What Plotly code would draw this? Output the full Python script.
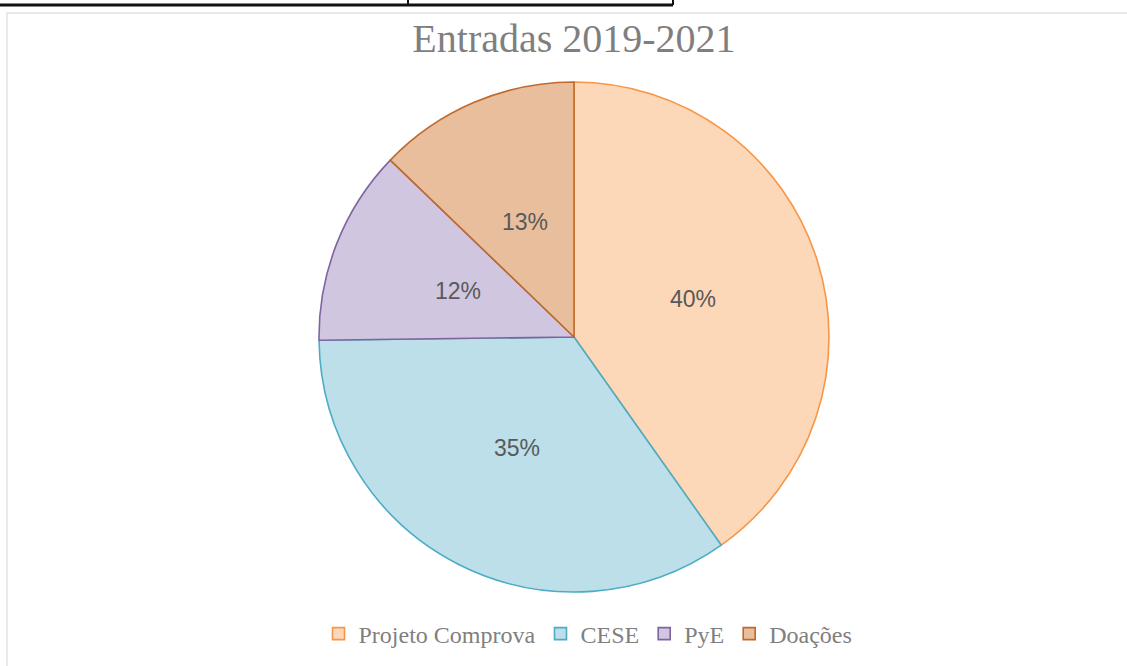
import math
import plotly.graph_objects as go

categories = ["Projeto Comprova", "CESE", "PyE", "Doações"]
values = [40.2, 34.6, 12.4, 12.8]
fill_colors = ["#FCD7B8", "#BCDFE9", "#D0C6DF", "#E9BE9C"]
line_colors = ["#F79646", "#4BACC6", "#8064A2", "#C0692B"]
title_text = "Entradas 2019-2021"

W, H = 1127, 666
cx, cy, R = 574, 337, 255
label_frac = 0.49  # Excel-like label placement along the mid-angle

fig = go.Figure()
fig.add_trace(go.Pie(
    labels=categories,
    values=values,
    sort=False,
    direction="clockwise",
    rotation=0,
    marker=dict(colors=fill_colors, line=dict(color=line_colors, width=1.6)),
    textinfo="none",
    domain=dict(x=[(cx - R) / W, (cx + R) / W], y=[(H - cy - R) / H, (H - cy + R) / H]),
    hoverinfo="label+percent",
))

# percentage labels placed at the slice mid-angles (derived from the values)
total = sum(values)
annotations = []
cum = 0.0
for v in values:
    mid = (cum + v / 2) / total * 2 * math.pi
    cum += v
    px = cx + label_frac * R * math.sin(mid)
    py = cy - label_frac * R * math.cos(mid)
    annotations.append(dict(
        x=px / W, y=1 - py / H, xref="paper", yref="paper",
        text=f"{round(v / total * 100)}%", showarrow=False,
        xanchor="center", yanchor="middle",
        font=dict(family="Liberation Sans", size=23, color="#595959"),
    ))

shapes = [
    dict(type="rect", xref="paper", yref="paper", x0=7 / W, x1=1.01, y0=-0.01, y1=1 - 13 / H,
         line=dict(color="#E3E3E3", width=1.5), fillcolor="rgba(0,0,0,0)", layer="below"),
    dict(type="line", xref="paper", yref="paper", x0=0, x1=673 / W, y0=1 - 5 / H, y1=1 - 5 / H,
         line=dict(color="#111111", width=3)),
    dict(type="line", xref="paper", yref="paper", x0=408 / W, x1=408 / W, y0=1, y1=1 - 5 / H,
         line=dict(color="#111111", width=2)),
    dict(type="line", xref="paper", yref="paper", x0=673 / W, x1=673 / W, y0=1, y1=1 - 5 / H,
         line=dict(color="#111111", width=2)),
]

fig.update_layout(
    width=W, height=H,
    margin=dict(l=0, r=0, t=0, b=0),
    paper_bgcolor="white",
    plot_bgcolor="white",
    title=dict(text=title_text, x=cx / W, xanchor="center", y=1 - 38 / H, yanchor="middle",
               font=dict(family="Liberation Serif", size=40, color="#7F7F7F")),
    showlegend=True,
    legend=dict(orientation="h", x=588 / W, xanchor="center", y=1 - 634 / H, yanchor="middle",
                font=dict(family="Liberation Serif", size=24, color="#7F7F7F"),
                itemwidth=30, traceorder="normal"),
    shapes=shapes,
    annotations=annotations,
)

fig.write_html("out.html", config={"displayModeBar": False},
               post_script="document.body.style.margin='0';")
